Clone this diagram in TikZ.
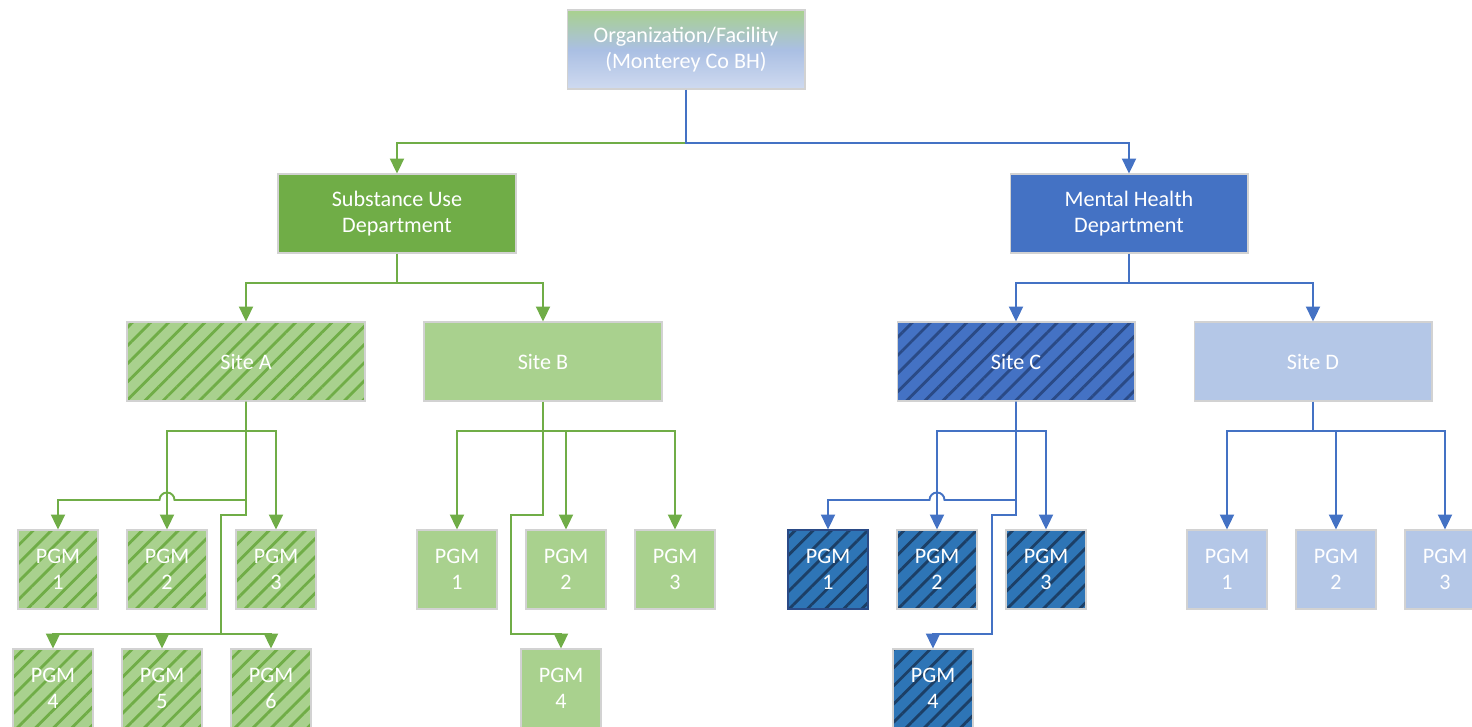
\documentclass[tikz,border=0pt]{standalone}
\usepackage{fontspec}
\setmainfont{Carlito}
\usetikzlibrary{arrows.meta,patterns.meta}

\definecolor{dgreen}{HTML}{70AD47}
\definecolor{lgreen}{HTML}{A9D18E}
\definecolor{dblue}{HTML}{4472C4}
\definecolor{lblue}{HTML}{B4C7E7}
\definecolor{mblue}{HTML}{2E75B6}
\definecolor{navy}{HTML}{2A4A86}
\definecolor{deepnavy}{HTML}{1C3F66}
\definecolor{boxline}{HTML}{D2D2D2}
\definecolor{orgmid}{HTML}{AABFE3}
\definecolor{orglow}{HTML}{CFDAF0}

\begin{document}
\begin{tikzpicture}[x=0.02cm, y=-0.02cm,
  box/.style={draw=boxline, line width=0.6pt, text=white, align=center, inner sep=0pt,
    font=\fontsize{12.6}{14.8}\selectfont},
  wide/.style={box, minimum width=4.76cm, minimum height=1.58cm},
  pgm/.style={box, minimum width=1.6cm, minimum height=1.58cm},
  hatchgreen/.style={preaction={fill=lgreen},
    preaction={pattern={Lines[angle=45,distance=7.3pt,line width=1.6pt]}, pattern color=dgreen}},
  hatchblue/.style={preaction={fill=dblue},
    preaction={pattern={Lines[angle=45,distance=7.3pt,line width=1.6pt]}, pattern color=navy}},
  hatchpgm/.style={preaction={fill=mblue},
    preaction={pattern={Lines[angle=45,distance=7.3pt,line width=1.6pt]}, pattern color=deepnavy}},
  gline/.style={draw=dgreen, line width=1.1pt, -{Triangle[length=8.5pt,width=8pt]}},
  bline/.style={draw=dblue, line width=1.1pt, -{Triangle[length=8.5pt,width=8pt]}}]
\useasboundingbox (0,0) rectangle (1472,727);

% top and departments
\node[wide, top color=lgreen, bottom color=orglow, middle color=orgmid] (org) at (686,49.5) {Organization/Facility\\(Monterey Co BH)};
\node[wide, fill=dgreen] (su) at (397,213.5) {Substance Use\\Department};
\node[wide, fill=dblue] (mh) at (1129,213.5) {Mental Health\\Department};

% sites
\node[wide, hatchgreen] (siteA) at (246,361.5) {Site A};
\node[wide, fill=lgreen] (siteB) at (543,361.5) {Site B};
\node[wide, hatchblue] (siteC) at (1016,361.5) {Site C};
\node[wide, fill=lblue] (siteD) at (1313,361.5) {Site D};

% programs of site A
\node[pgm, hatchgreen] (a1) at (58,569.5) {PGM\\1};
\node[pgm, hatchgreen] (a2) at (167,569.5) {PGM\\2};
\node[pgm, hatchgreen] (a3) at (276,569.5) {PGM\\3};
\node[pgm, hatchgreen] (a4) at (53,688.5) {PGM\\4};
\node[pgm, hatchgreen] (a5) at (162,688.5) {PGM\\5};
\node[pgm, hatchgreen] (a6) at (271,688.5) {PGM\\6};

% programs of site B
\node[pgm, fill=lgreen] (b1) at (457,569.5) {PGM\\1};
\node[pgm, fill=lgreen] (b2) at (566,569.5) {PGM\\2};
\node[pgm, fill=lgreen] (b3) at (675,569.5) {PGM\\3};
\node[pgm, fill=lgreen] (b4) at (561,688.5) {PGM\\4};

% programs of site C
\node[pgm, hatchpgm, draw=navy] (c1) at (828,569.5) {PGM\\1};
\node[pgm, hatchpgm] (c2) at (937,569.5) {PGM\\2};
\node[pgm, hatchpgm] (c3) at (1046,569.5) {PGM\\3};
\node[pgm, hatchpgm] (c4) at (933,688.5) {PGM\\4};

% programs of site D
\node[pgm, fill=lblue] (d1) at (1227,569.5) {PGM\\1};
\node[pgm, fill=lblue] (d2) at (1336,569.5) {PGM\\2};
\node[pgm, fill=lblue] (d3) at (1445,569.5) {PGM\\3};

% connectors
\coordinate (j0) at (686,143);
\draw[gline] (j0) -| (su.north);
\draw[bline] (org.south) -- (j0) -| (mh.north);

\coordinate (j1) at (397,283);
\draw[gline] (su.south) -- (j1) -| (siteA.north);
\draw[gline] (j1) -| (siteB.north);
\coordinate (j2) at (1129,283);
\draw[bline] (mh.south) -- (j2) -| (siteC.north);
\draw[bline] (j2) -| (siteD.north);

% site A
\draw[gline] (siteA.south) -- (246,431) -| (a2.north);
\draw[gline] (246,431) -| (a3.north);
\draw[gline] (siteA.south) -- (246,500) -- (174.5,500) arc[start angle=0, end angle=180, radius=0.15cm] -| (a1.north);
\draw[gline] (246,500) -- (246,515) -- (221,515) -- (221,634) -| (a4.north);
\draw[gline] (221,634) -| (a5.north);
\draw[gline] (221,634) -| (a6.north);

% site B
\draw[gline] (siteB.south) -- (543,431) -| (b1.north);
\draw[gline] (543,431) -| (b2.north);
\draw[gline] (543,431) -| (b3.north);
\draw[gline] (543,431) -- (543,515) -- (511,515) -- (511,634) -| (b4.north);

% site C
\draw[bline] (siteC.south) -- (1016,431) -| (c2.north);
\draw[bline] (1016,431) -| (c3.north);
\draw[bline] (siteC.south) -- (1016,500) -- (944.5,500) arc[start angle=0, end angle=180, radius=0.15cm] -| (c1.north);
\draw[bline] (1016,500) -- (1016,515) -- (992,515) -- (992,634) -| (c4.north);

% site D
\draw[bline] (siteD.south) -- (1313,431) -| (d1.north);
\draw[bline] (1313,431) -| (d2.north);
\draw[bline] (1313,431) -| (d3.north);
\end{tikzpicture}
\end{document}
